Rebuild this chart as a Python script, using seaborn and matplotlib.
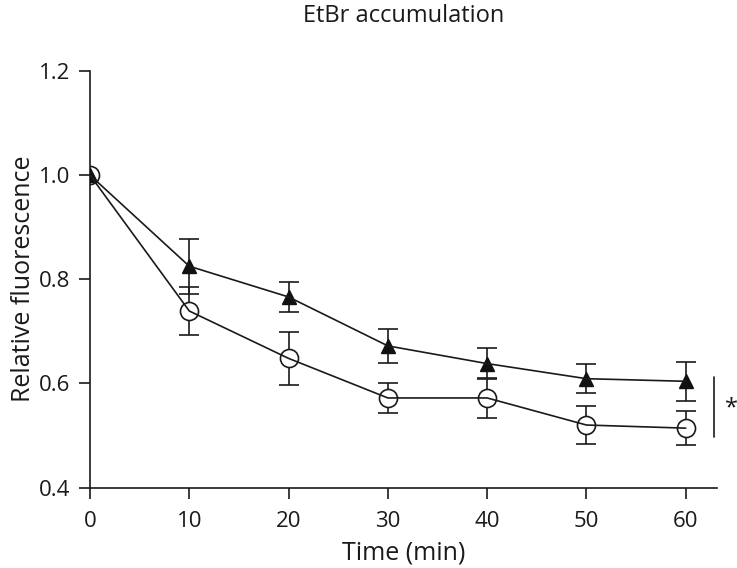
import matplotlib
matplotlib.use("Agg")
import matplotlib.pyplot as plt
import seaborn as sns
import pandas as pd

sns.set_style("ticks")
plt.rcParams['font.family'] = ['Open Sans', 'DejaVu Sans']

# data
time_min = [0, 10, 20, 30, 40, 50, 60]
circle_mean = [1.0, 0.739, 0.648, 0.572, 0.572, 0.520, 0.514]
circle_err = [0.0, 0.047, 0.051, 0.029, 0.038, 0.036, 0.032]
triangle_mean = [1.0, 0.825, 0.766, 0.672, 0.638, 0.609, 0.604]
triangle_err = [0.0, 0.053, 0.029, 0.033, 0.030, 0.028, 0.038]

df = pd.DataFrame({
    'time': time_min * 2,
    'value': circle_mean + triangle_mean,
    'group': ['circle'] * 7 + ['triangle'] * 7,
})

fig = plt.figure(figsize=(7.37, 5.68), dpi=100)
ax = fig.add_axes([90 / 737, 1 - 487.5 / 568, (717.5 - 90) / 737, (487.5 - 71) / 568])

# error bars underneath
ax.errorbar(time_min, circle_mean, yerr=circle_err, fmt='none', ecolor='#1a1a1a',
            elinewidth=1.2, capsize=7.5, capthick=1.2, zorder=1)
ax.errorbar(time_min, triangle_mean, yerr=triangle_err, fmt='none', ecolor='#1a1a1a',
            elinewidth=1.2, capsize=7.5, capthick=1.2, zorder=1)

# markers
ax.plot(time_min, circle_mean, linestyle='none', marker='o', markersize=13,
        markerfacecolor='white', markeredgecolor='#1a1a1a', markeredgewidth=1.2, zorder=2)
ax.plot(time_min, triangle_mean, linestyle='none', marker='^', markersize=10.5,
        markerfacecolor='#111111', markeredgecolor='#111111', zorder=3)

# connecting lines
sns.lineplot(data=df, x='time', y='value', hue='group', palette=['#1a1a1a', '#1a1a1a'],
             linewidth=1.2, legend=False, ax=ax, zorder=4)

ax.set_xlim(0, 63.2)
ax.set_ylim(0.4, 1.2)
ax.set_xticks(time_min)
ax.set_yticks([0.4, 0.6, 0.8, 1.0, 1.2])
ax.set_yticklabels(['0.4', '0.6', '0.8', '1.0', '1.2'])
ax.tick_params(axis='both', direction='out', length=8, width=1.2, labelsize=16,
               colors='#1a1a1a', pad=6.5)
ax.tick_params(axis='x', pad=9)
for side in ['left', 'bottom']:
    ax.spines[side].set_linewidth(1.2)
    ax.spines[side].set_color('#1a1a1a')
sns.despine(ax=ax)

ax.set_xlabel('Time (min)', fontsize=18, color='#1a1a1a', labelpad=6)
ax.set_ylabel('Relative fluorescence', fontsize=18, color='#1a1a1a', labelpad=2)
ax.set_title('EtBr accumulation', fontsize=17, color='#1a1a1a', pad=35)

# significance bracket
ax.plot([62.8, 62.8], [0.497, 0.613], color='#1a1a1a', linewidth=1.2, clip_on=False)
ax.text(64.6, 0.552, '*', fontsize=17, ha='center', va='center', color='#1a1a1a',
        clip_on=False)

fig.savefig('out.png', dpi=100)
